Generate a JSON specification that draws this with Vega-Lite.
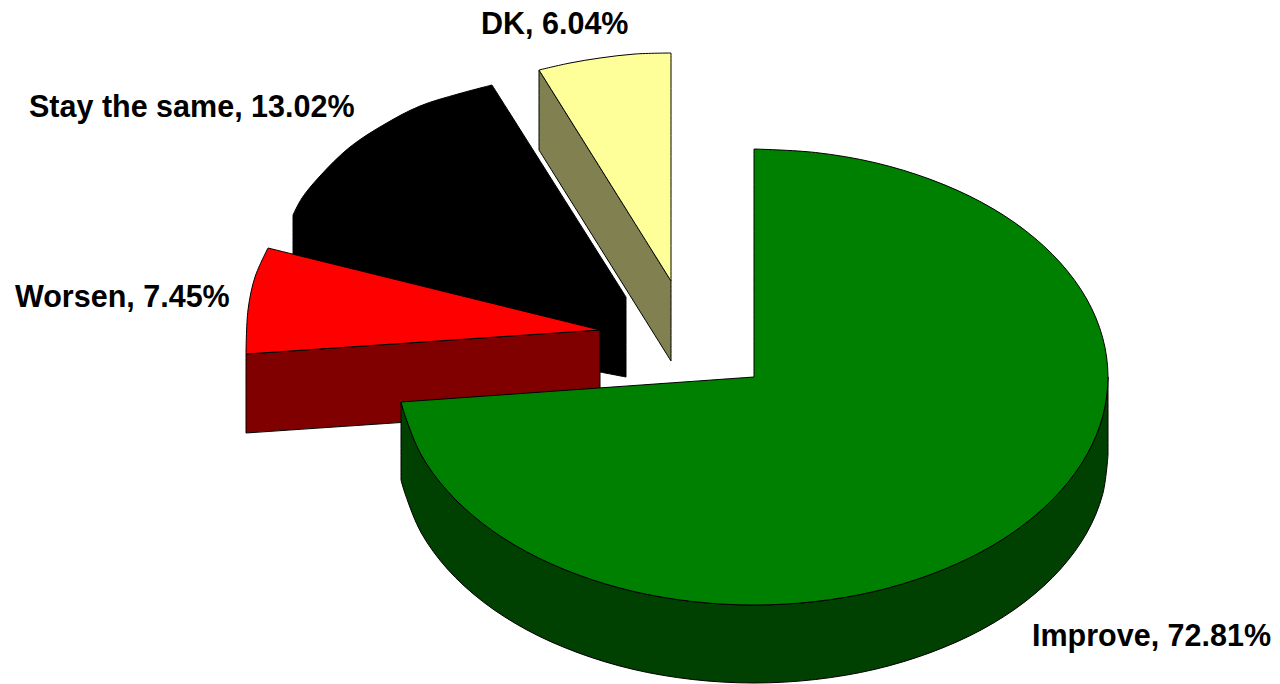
{"$schema":"https://vega.github.io/schema/vega-lite/v6.json","width":1280,"height":684,"padding":0,"autosize":{"type":"fit","contains":"padding"},"background":"white","view":{"stroke":null},
"layer":[
{"data":{"values":[
{"s":"DK side","i":0,"x":539,"y":70},{"s":"DK side","i":0,"x":539,"y":70},{"s":"DK side","i":1,"x":671,"y":281},{"s":"DK side","i":1,"x":671,"y":281},{"s":"DK side","i":2,"x":671,"y":361},{"s":"DK side","i":2,"x":671,"y":361},{"s":"DK side","i":3,"x":539,"y":150},{"s":"DK side","i":3,"x":539,"y":150},{"s":"DK side","i":4,"x":539,"y":70},{"s":"DK side","i":4,"x":539,"y":70},
{"s":"DK top","i":0,"x":671,"y":281},{"s":"DK top","i":0,"x":671,"y":281},{"s":"DK top","i":1,"x":539,"y":70},{"s":"DK top","i":1,"x":539,"y":70},{"s":"DK top","i":2,"x":570,"y":63},{"s":"DK top","i":3,"x":600,"y":58},{"s":"DK top","i":4,"x":635,"y":54},{"s":"DK top","i":5,"x":671,"y":53},{"s":"DK top","i":5,"x":671,"y":53},{"s":"DK top","i":6,"x":671,"y":281},{"s":"DK top","i":6,"x":671,"y":281},
{"s":"Stay the same","i":0,"x":626,"y":297},{"s":"Stay the same","i":0,"x":626,"y":297},{"s":"Stay the same","i":1,"x":492,"y":85},{"s":"Stay the same","i":1,"x":492,"y":85},{"s":"Stay the same","i":2,"x":458,"y":94},{"s":"Stay the same","i":3,"x":420,"y":106},{"s":"Stay the same","i":4,"x":385,"y":124},{"s":"Stay the same","i":5,"x":350,"y":147},{"s":"Stay the same","i":6,"x":320,"y":176},{"s":"Stay the same","i":7,"x":302,"y":198},{"s":"Stay the same","i":8,"x":293,"y":215},{"s":"Stay the same","i":8,"x":293,"y":215},{"s":"Stay the same","i":9,"x":293,"y":258},{"s":"Stay the same","i":9,"x":293,"y":258},{"s":"Stay the same","i":10,"x":600,"y":372},{"s":"Stay the same","i":10,"x":600,"y":372},{"s":"Stay the same","i":11,"x":626,"y":377},{"s":"Stay the same","i":11,"x":626,"y":377},{"s":"Stay the same","i":12,"x":626,"y":297},{"s":"Stay the same","i":12,"x":626,"y":297},
{"s":"Worsen side","i":0,"x":600,"y":330},{"s":"Worsen side","i":0,"x":600,"y":330},{"s":"Worsen side","i":1,"x":246,"y":354},{"s":"Worsen side","i":1,"x":246,"y":354},{"s":"Worsen side","i":2,"x":246,"y":433},{"s":"Worsen side","i":2,"x":246,"y":433},{"s":"Worsen side","i":3,"x":600,"y":409},{"s":"Worsen side","i":3,"x":600,"y":409},{"s":"Worsen side","i":4,"x":600,"y":330},{"s":"Worsen side","i":4,"x":600,"y":330},
{"s":"Worsen top","i":0,"x":600,"y":330},{"s":"Worsen top","i":0,"x":600,"y":330},{"s":"Worsen top","i":1,"x":268,"y":248},{"s":"Worsen top","i":1,"x":268,"y":248},{"s":"Worsen top","i":2,"x":255,"y":277},{"s":"Worsen top","i":3,"x":248,"y":310},{"s":"Worsen top","i":4,"x":246,"y":354},{"s":"Worsen top","i":4,"x":246,"y":354},{"s":"Worsen top","i":5,"x":600,"y":330},{"s":"Worsen top","i":5,"x":600,"y":330},
{"s":"Improve side","i":0,"x":1108,"y":377},{"s":"Improve side","i":0,"x":1108,"y":377},{"s":"Improve side","i":1,"x":1102.6,"y":416.6},{"s":"Improve side","i":2,"x":1086.7,"y":455},{"s":"Improve side","i":3,"x":1060.6,"y":491},{"s":"Improve side","i":4,"x":1025.2,"y":523.6},{"s":"Improve side","i":5,"x":981.6,"y":551.7},{"s":"Improve side","i":6,"x":931,"y":574.4},{"s":"Improve side","i":7,"x":875.1,"y":591.3},{"s":"Improve side","i":8,"x":815.5,"y":601.5},{"s":"Improve side","i":9,"x":754,"y":605},{"s":"Improve side","i":10,"x":692.5,"y":601.5},{"s":"Improve side","i":11,"x":632.9,"y":591.3},{"s":"Improve side","i":12,"x":577,"y":574.4},{"s":"Improve side","i":13,"x":526.4,"y":551.7},{"s":"Improve side","i":14,"x":482.8,"y":523.6},{"s":"Improve side","i":15,"x":447.4,"y":491},{"s":"Improve side","i":16,"x":421.3,"y":455},{"s":"Improve side","i":17,"x":405.4,"y":416.6},{"s":"Improve side","i":18,"x":401,"y":402},{"s":"Improve side","i":18,"x":401,"y":402},
{"s":"Improve side","i":19,"x":401,"y":480},{"s":"Improve side","i":19,"x":401,"y":480},{"s":"Improve side","i":20,"x":405.4,"y":494.6},{"s":"Improve side","i":21,"x":421.3,"y":533},{"s":"Improve side","i":22,"x":447.4,"y":569},{"s":"Improve side","i":23,"x":482.8,"y":601.6},{"s":"Improve side","i":24,"x":526.4,"y":629.7},{"s":"Improve side","i":25,"x":577,"y":652.4},{"s":"Improve side","i":26,"x":632.9,"y":669.3},{"s":"Improve side","i":27,"x":692.5,"y":679.5},{"s":"Improve side","i":28,"x":754,"y":683},{"s":"Improve side","i":29,"x":815.5,"y":679.5},{"s":"Improve side","i":30,"x":875.1,"y":669.3},{"s":"Improve side","i":31,"x":931,"y":652.4},{"s":"Improve side","i":32,"x":981.6,"y":629.7},{"s":"Improve side","i":33,"x":1025.2,"y":601.6},{"s":"Improve side","i":34,"x":1060.6,"y":569},{"s":"Improve side","i":35,"x":1086.7,"y":533},{"s":"Improve side","i":36,"x":1102.6,"y":494.6},{"s":"Improve side","i":37,"x":1108,"y":455},{"s":"Improve side","i":37,"x":1108,"y":455},{"s":"Improve side","i":38,"x":1108,"y":377},{"s":"Improve side","i":38,"x":1108,"y":377},
{"s":"Improve top","i":0,"x":754,"y":377},{"s":"Improve top","i":0,"x":754,"y":377},{"s":"Improve top","i":1,"x":754,"y":149},{"s":"Improve top","i":1,"x":754,"y":149},{"s":"Improve top","i":2,"x":815.5,"y":152.5},{"s":"Improve top","i":3,"x":875.1,"y":162.7},{"s":"Improve top","i":4,"x":931,"y":179.6},{"s":"Improve top","i":5,"x":981.6,"y":202.3},{"s":"Improve top","i":6,"x":1025.2,"y":230.4},{"s":"Improve top","i":7,"x":1060.6,"y":263},{"s":"Improve top","i":8,"x":1086.7,"y":299},{"s":"Improve top","i":9,"x":1102.6,"y":337.4},{"s":"Improve top","i":10,"x":1108,"y":377},{"s":"Improve top","i":11,"x":1102.6,"y":416.6},{"s":"Improve top","i":12,"x":1086.7,"y":455},{"s":"Improve top","i":13,"x":1060.6,"y":491},{"s":"Improve top","i":14,"x":1025.2,"y":523.6},{"s":"Improve top","i":15,"x":981.6,"y":551.7},{"s":"Improve top","i":16,"x":931,"y":574.4},{"s":"Improve top","i":17,"x":875.1,"y":591.3},{"s":"Improve top","i":18,"x":815.5,"y":601.5},{"s":"Improve top","i":19,"x":754,"y":605},{"s":"Improve top","i":20,"x":692.5,"y":601.5},{"s":"Improve top","i":21,"x":632.9,"y":591.3},{"s":"Improve top","i":22,"x":577,"y":574.4},{"s":"Improve top","i":23,"x":526.4,"y":551.7},{"s":"Improve top","i":24,"x":482.8,"y":523.6},{"s":"Improve top","i":25,"x":447.4,"y":491},{"s":"Improve top","i":26,"x":421.3,"y":455},{"s":"Improve top","i":27,"x":405.4,"y":416.6},{"s":"Improve top","i":28,"x":401,"y":402},{"s":"Improve top","i":28,"x":401,"y":402},{"s":"Improve top","i":29,"x":754,"y":377},{"s":"Improve top","i":29,"x":754,"y":377}
]},
"mark":{"type":"line","stroke":"black","strokeWidth":1,"strokeJoin":"round","clip":false,"interpolate":"catmull-rom"},
"encoding":{
"x":{"field":"x","type":"quantitative","scale":{"domain":[0,1280]},"axis":null},
"y":{"field":"y","type":"quantitative","scale":{"domain":[684,0]},"axis":null},
"order":{"field":"i","type":"quantitative"},
"detail":{"field":"s"},
"fill":{"field":"s","type":"nominal","legend":null,"scale":{"domain":["DK side","DK top","Stay the same","Worsen side","Worsen top","Improve side","Improve top"],"range":["#808050","#FFFF99","#000000","#800000","#FF0000","#004000","#008000"]}}
}},
{"data":{"values":[
{"label":"Improve, 72.81%","x":1032,"y":637},
{"label":"Worsen, 7.45%","x":15,"y":298},
{"label":"Stay the same, 13.02%","x":29,"y":108},
{"label":"DK, 6.04%","x":481,"y":25}
]},
"mark":{"type":"text","align":"left","baseline":"middle","font":"Liberation Sans","fontWeight":"bold","fontSize":30.5,"color":"black"},
"encoding":{
"x":{"field":"x","type":"quantitative","scale":{"domain":[0,1280]},"axis":null},
"y":{"field":"y","type":"quantitative","scale":{"domain":[684,0]},"axis":null},
"text":{"field":"label"}
}}
]}
